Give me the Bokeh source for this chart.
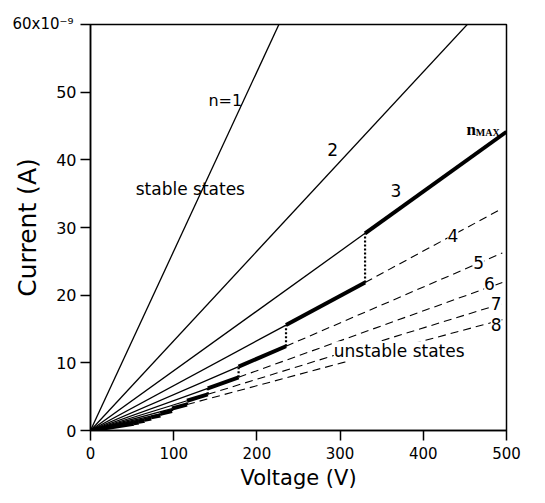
from bokeh.plotting import figure
from bokeh.models import Range1d, FixedTicker, Title
from bokeh.core.properties import value
from bokeh.embed import file_html
from bokeh.resources import INLINE

# ---- data ----
state_n = [1, 2, 3, 4, 5, 6, 7, 8, 9, 10, 11, 12, 13, 14]
# current per volt of each state, in nA/V
slope_nA_per_V = [0.265, 0.1325, 0.0883, 0.0663, 0.0530, 0.0442, 0.0379,
                  0.0331, 0.0294, 0.0265, 0.0241, 0.0221, 0.0204, 0.0189]
# voltage where n_MAX drops from state n to state n+1
transition_n = [3, 4, 5, 6, 7, 8, 9, 10, 11, 12, 13]
transition_V = [330, 235, 178, 141, 116, 98, 84, 73, 65, 58, 52]
dashed_states = [4, 5, 6, 7, 8]
v_max = 500

x_ticks = [0, 100, 200, 300, 400, 500]
y_ticks = [0, 10, 20, 30, 40, 50, 60]
y_top_label = "60x10\u207b\u2079"

FONT = "DejaVu Sans"

p = figure(width=537, height=495, frame_width=416, frame_height=406,
           min_border_left=90, min_border_right=31, min_border_top=24, min_border_bottom=60,
           x_range=Range1d(0, 500), y_range=Range1d(0, 60),
           output_backend="svg", toolbar_location=None)
p.grid.visible = False
p.outline_line_color = "black"
p.outline_line_width = 1.5
p.background_fill_color = "white"

slope = dict(zip(state_n, slope_nA_per_V))
trans = dict(zip(transition_n, transition_V))

thin_x, thin_y, thick_x, thick_y, dash_x, dash_y, dot_x, dot_y = [], [], [], [], [], [], [], []
for n in state_n:
    k = slope[n]
    if n <= 2:
        thin_x.append([0, v_max]); thin_y.append([0, k * v_max])
        continue
    v_lo = trans.get(n, 0)          # lower end of thick segment
    v_hi = trans.get(n - 1, v_max)  # upper end of thick segment
    if v_lo > 0:
        thin_x.append([0, v_lo]); thin_y.append([0, k * v_lo])
    thick_x.append([v_lo, v_hi]); thick_y.append([k * v_lo, k * v_hi])
    if n in dashed_states:
        dash_x.append([v_hi, v_max - 5]); dash_y.append([k * v_hi, k * (v_max - 5)])
for n, v in zip(transition_n, transition_V):
    dot_x.append([v, v]); dot_y.append([slope[n + 1] * v, slope[n] * v])

p.multi_line(thin_x, thin_y, line_color="black", line_width=1.3)
p.multi_line(dash_x, dash_y, line_color="black", line_width=1.1, line_dash="8 5")
p.multi_line(dot_x, dot_y, line_color="black", line_width=2.2, line_dash="2 2")
p.multi_line(thick_x, thick_y, line_color="black", line_width=4)

# ---- labels ----
def label(x, y, t, size="17px", bg=None, font=FONT, style="normal", align="center"):
    kw = {}
    if bg:
        kw["background_fill_color"] = bg
    p.text(x=[x], y=[y], text=[t], text_font=value(font), text_font_size=size,
           text_font_style=style, text_align=align, text_baseline="middle",
           text_color="black", **kw)

label(162, 48.8, "n=1", size="16px")
label(291, 41.6, "2")
label(367, 35.5, "3")
label(435.6, 28.8, "4", bg="white")
label(466.4, 24.9, "5", bg="white")
label(479.6, 21.7, "6", bg="white")
label(487.6, 18.7, "7", bg="white")
label(487.6, 15.6, "8", bg="white")
label(120, 35.7, "stable states")
label(371, 11.7, "unstable states", bg="white")
p.text(x=[452], y=[44.5], text=["n"], text_font=value("Liberation Serif"),
       text_font_size="17px", text_font_style="bold", text_baseline="alphabetic")
p.text(x=[463], y=[44.1], text=["MAX"], text_font=value("Liberation Serif"),
       text_font_size="10px", text_font_style="bold", text_baseline="alphabetic")

# top y tick label with exponent, placed in the panel above the frame
p.add_layout(Title(text=y_top_label, align="left", offset=-78, standoff=-17,
                   vertical_align="bottom", text_font=FONT, text_font_size="15px",
                   text_font_style="normal", text_color="black"), "above")

# ---- axes ----
for ax in (p.xaxis[0], p.yaxis[0]):
    ax.axis_line_width = 1.5
    ax.major_tick_line_width = 1.5
    ax.major_tick_out = 10
    ax.major_tick_in = 0
    ax.minor_tick_line_color = None
    ax.major_label_text_font = FONT
    ax.axis_label_text_font = FONT
    ax.axis_label_text_font_style = "normal"
    ax.major_label_text_color = "black"
    ax.axis_label_text_color = "black"

p.xaxis.ticker = FixedTicker(ticks=x_ticks)
p.yaxis.ticker = FixedTicker(ticks=y_ticks)
p.yaxis.major_label_overrides = {60: ""}
p.xaxis.axis_label = "Voltage (V)"
p.yaxis.axis_label = "Current (A)"
p.xaxis.major_label_text_font_size = "15px"
p.yaxis.major_label_text_font_size = "16px"
p.xaxis.axis_label_text_font_size = "21px"
p.yaxis.axis_label_text_font_size = "25px"
p.xaxis.major_label_standoff = 6
p.yaxis.major_label_standoff = 4
p.xaxis.axis_label_standoff = 4
p.yaxis.axis_label_standoff = 11

open("out.html", "w").write(file_html(p, INLINE))
